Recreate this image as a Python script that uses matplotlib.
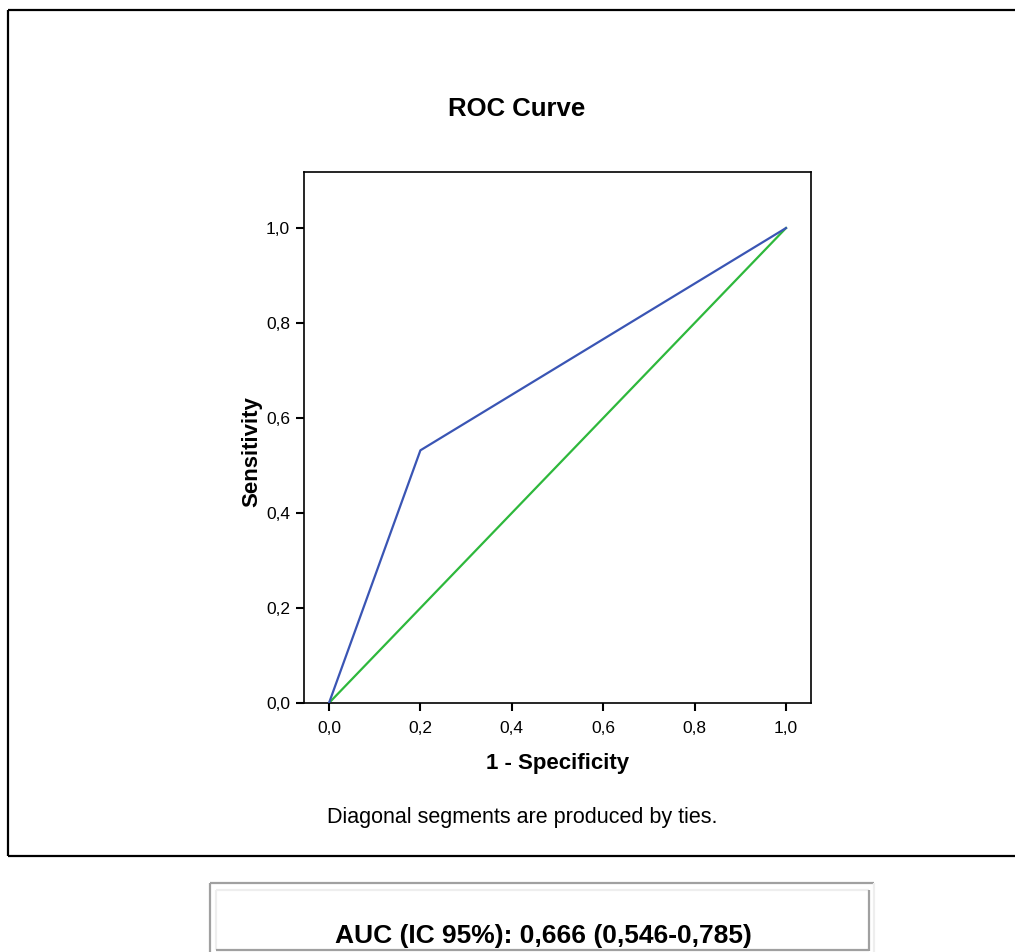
import matplotlib
matplotlib.use("Agg")
import matplotlib.pyplot as plt
from matplotlib.lines import Line2D
from matplotlib.ticker import FixedLocator, FuncFormatter

plt.rcParams['font.family'] = ['Liberation Sans', 'DejaVu Sans']

# ROC data
fpr = [0.0, 0.2, 1.0]
tpr = [0.0, 0.532, 1.0]
ref_x = [0.0, 1.0]
ref_y = [0.0, 1.0]
ticks = [0.0, 0.2, 0.4, 0.6, 0.8, 1.0]
auc_text = "AUC (IC 95%): 0,666 (0,546-0,785)"

W, H = 1015, 952
fig = plt.figure(figsize=(W / 100, H / 100), dpi=100)


def fx(x):
    return x / W


def fy(y):
    return 1 - y / H


def hline(x0, x1, y, color, lw):
    fig.add_artist(Line2D([fx(x0), fx(x1)], [fy(y), fy(y)], color=color,
                          lw=lw, transform=fig.transFigure, solid_capstyle='butt'))


def vline(x, y0, y1, color, lw):
    fig.add_artist(Line2D([fx(x), fx(x)], [fy(y0), fy(y1)], color=color,
                          lw=lw, transform=fig.transFigure, solid_capstyle='butt'))


# outer chart frame (right side runs off the picture)
hline(8, 1020, 10, 'black', 1.6)
hline(8, 1020, 856, 'black', 1.6)
vline(8, 10, 856, 'black', 1.6)

ax = fig.add_axes([fx(304), fy(703), fx(811) - fx(304), fy(172) - fy(703)])
ax.plot(fpr, tpr, color='#3A55B4', lw=1.6, zorder=3)
ax.plot(ref_x, ref_y, color='#2EB83C', lw=1.6, zorder=2)
ax.set_xlim(-0.0547, 1.0547)
ax.set_ylim(0.0, 1.118)

fmt = FuncFormatter(lambda v, p: f"{v:.1f}".replace('.', ','))
ax.xaxis.set_major_locator(FixedLocator(ticks))
ax.yaxis.set_major_locator(FixedLocator(ticks))
ax.xaxis.set_major_formatter(fmt)
ax.yaxis.set_major_formatter(fmt)
ax.tick_params(direction='out', length=6, width=1.5, labelsize=12.5,
               colors='black')
ax.tick_params(axis='x', pad=7)
ax.tick_params(axis='y', pad=4)
for s in ax.spines.values():
    s.set_linewidth(1.2)

ax.set_xlabel("1 - Specificity", fontsize=16, fontweight='bold', labelpad=12)
ax.set_ylabel("Sensitivity", fontsize=16, fontweight='bold')
ax.yaxis.set_label_coords(-0.082, 0.473)

fig.text(fx(517), fy(109), "ROC Curve", fontsize=18.5, fontweight='bold',
         ha='center', va='center')
fig.text(fx(522), fy(818), "Diagonal segments are produced by ties.",
         fontsize=15.5, ha='center', va='center')

# AUC table box
hline(210, 874, 882.5, '#A0A0A0', 1.6)
vline(210, 882.5, 955, '#A0A0A0', 1.6)
vline(874, 882.5, 955, '#EEEEEE', 1.6)
hline(216, 869, 890, '#EEEEEE', 1.6)
vline(216, 890, 950, '#EEEEEE', 1.6)
vline(869, 890, 950.5, '#A0A0A0', 1.6)
hline(216, 869, 950, '#A0A0A0', 1.6)
fig.text(fx(543), fy(936), auc_text, fontsize=19, fontweight='bold',
         ha='center', va='center')

fig.savefig("out.png", dpi=100)
